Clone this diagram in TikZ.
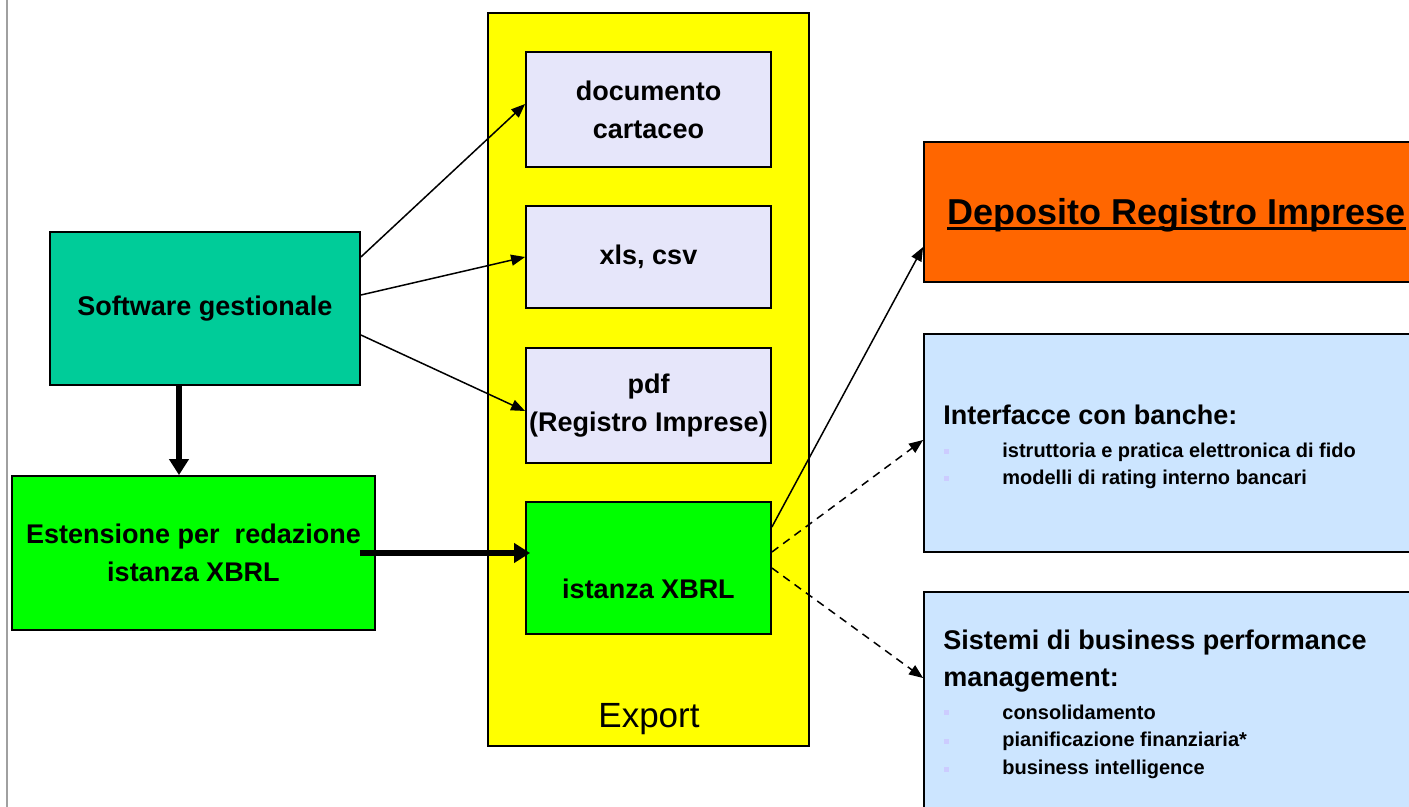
\documentclass[tikz,border=0pt]{standalone}
\usepackage{fontspec}
\setmainfont{Liberation Sans}
\usetikzlibrary{arrows.meta,calc}
\definecolor{softgreen}{RGB}{0,204,153}
\definecolor{xbrlgreen}{RGB}{0,255,0}
\definecolor{exportyellow}{RGB}{255,255,0}
\definecolor{outlavender}{RGB}{230,230,250}
\definecolor{depoorange}{RGB}{255,102,0}
\definecolor{bankblue}{RGB}{204,229,255}
\definecolor{dotlavender}{RGB}{204,204,255}
\definecolor{edgegray}{RGB}{160,160,160}

\begin{document}
\begin{tikzpicture}[x=0.5pt,y=-0.5pt,
    box/.style={draw=black, line width=0.9pt, inner sep=0pt, align=center, font=\bfseries\fontsize{13.5}{19}\selectfont},
    thin arrow/.style={line width=0.75pt, -{Triangle[length=7pt,width=5.5pt]}},
    fat arrow/.style={line width=3pt, -{Triangle[length=8pt,width=9.5pt]}},
    dash arrow/.style={thin arrow, dash pattern=on 4pt off 3pt},
    bulletsq/.style={fill=dotlavender, minimum size=2.5pt, inner sep=0pt},
    itemtext/.style={anchor=west, inner sep=0pt, font=\bfseries\fontsize{10}{12}\selectfont},
    headtext/.style={anchor=west, inner sep=0pt, align=left, font=\bfseries\fontsize{13.5}{18.5}\selectfont}]
                \useasboundingbox (0,0) rectangle (1409,807);
                \clip (0,0) rectangle (1409,807);
                \draw[edgegray, line width=1pt] (7,0) -- (7,807);
                % left column
                \node[box, fill=softgreen, minimum width=155pt, minimum height=76.5pt] (software) at (205,308.5) {Software gestionale};
                \node[box, fill=xbrlgreen, minimum width=181.5pt, minimum height=77pt] (estensione) at (193.5,553) {Estensione per~ redazione\\istanza XBRL};
                % export column
                \node[box, fill=exportyellow, minimum width=160.5pt, minimum height=366.5pt] (export) at (648.5,379.5) {};
                \node[font=\fontsize{17.5}{21}\selectfont] (exportlbl) at (649,719) {Export};
                \node[box, fill=outlavender, minimum width=122.5pt, minimum height=57.5pt] (doc) at (648.5,109.5) {documento\\cartaceo};
                \node[box, fill=outlavender, minimum width=122.5pt, minimum height=51pt] (xls) at (648.5,257) {xls, csv};
                \node[box, fill=outlavender, minimum width=122.5pt, minimum height=57.5pt] (pdf) at (648.5,405.5) {pdf\\(Registro Imprese)};
                \node[box, fill=xbrlgreen, minimum width=122.5pt, minimum height=66pt] (istanza) at (648.5,568) {};
                \node[font=\bfseries\fontsize{13.5}{19}\selectfont] (istanzalbl) at (648.5,589) {istanza XBRL};
                % right column
                \node[box, fill=depoorange, minimum width=253pt, minimum height=70pt] (deposito) at (1177,212) {};
                \node[inner sep=0pt, font=\bfseries\fontsize{18}{22}\selectfont] (depotext) at (1176.5,215) {Deposito Registro Imprese};
                \draw[line width=1.6pt] ([yshift=-2.3pt]depotext.base west) -- ([yshift=-2.3pt]depotext.base east);
                \node[box, fill=bankblue, minimum width=253pt, minimum height=109pt] (banche) at (1177,443) {};
                \node[box, fill=bankblue, minimum width=253pt, minimum height=119pt] (sistemi) at (1177,711) {};
                \node[headtext] (banchehead) at (943,415) {Interfacce con banche:};
                \node[headtext] (sistemihead) at (943,661.5) {Sistemi di business performance\\management:};
                \foreach \yy/\nm/\txt in {452/fido/istruttoria e pratica elettronica di fido,
                    479/rating/modelli di rating interno bancari,
                    712/consol/consolidamento,
                    741/pianif/pianificazione finanziaria*,
                    769/bi/business intelligence} {
                    \node[bulletsq] (sq\nm) at (946,\yy) {};
                    \node[itemtext] (\nm) at (1002,\yy) {\txt};
                }
                % connectors
                \coordinate (downstart) at ($(software.south)+(-26,0)$);
                \draw[fat arrow] (downstart) -- (downstart |- estensione.north);
                \draw[fat arrow] ($(estensione.east)+(-16,0)$) -- ($(istanza.west |- estensione.east)+(5,0)$);
                \draw[thin arrow] ($(software.east)+(0,-51.5)$) -- ($(doc.west)+(0,-5.5)$);
                \draw[thin arrow] ($(software.east)+(0,-13.5)$) -- (xls.west);
                \draw[thin arrow] ($(software.east)+(0,26.5)$) -- ($(pdf.west)+(0,5.5)$);
                \draw[thin arrow] ($(istanza.east)+(0,-41)$) -- ($(deposito.west)+(0,35)$);
                \draw[dash arrow] ($(istanza.east)+(0,-16)$) -- ($(banche.west)+(0,-3)$);
                \draw[dash arrow] (istanza.east) -- ($(sistemi.west)+(0,-33)$);
            \end{tikzpicture}
\end{document}
